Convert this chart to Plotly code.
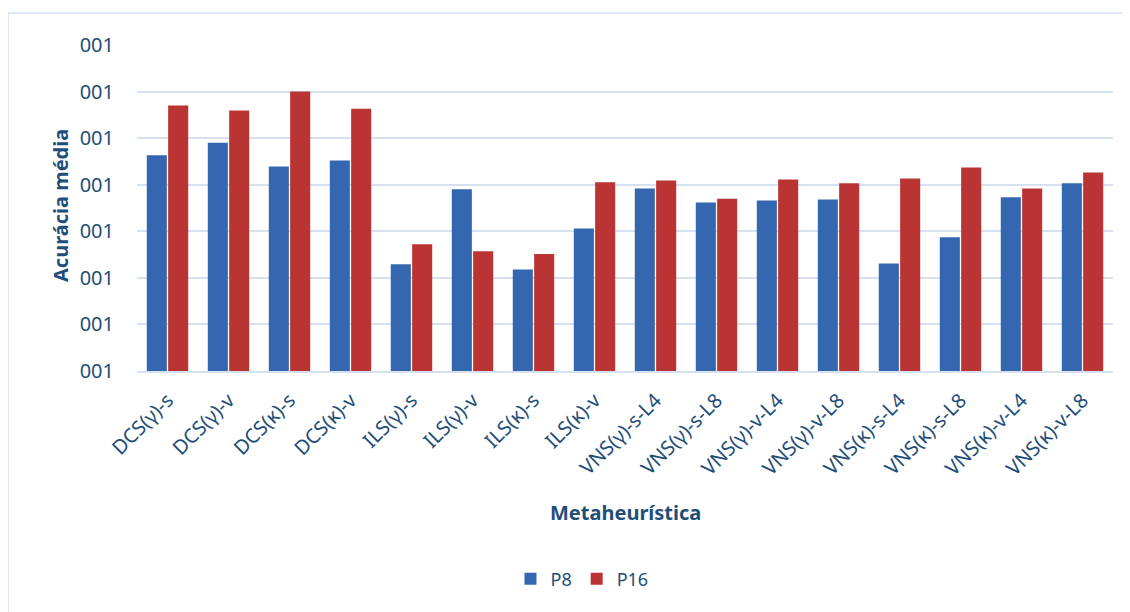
import plotly.graph_objects as go

categories = ["DCS(γ)-s", "DCS(γ)-v", "DCS(κ)-s", "DCS(κ)-v", "ILS(γ)-s", "ILS(γ)-v",
              "ILS(κ)-s", "ILS(κ)-v", "VNS(γ)-s-L4", "VNS(γ)-s-L8", "VNS(γ)-v-L4",
              "VNS(γ)-v-L8", "VNS(κ)-s-L4", "VNS(κ)-s-L8", "VNS(κ)-v-L4", "VNS(κ)-v-L8"]
p8 = [4.63, 4.90, 4.39, 4.52, 2.29, 3.90, 2.18, 3.06, 3.92, 3.62, 3.66, 3.68, 2.31, 2.87, 3.73, 4.03]
p16 = [5.70, 5.59, 6.00, 5.63, 2.72, 2.57, 2.51, 4.05, 4.09, 3.70, 4.11, 4.03, 4.13, 4.37, 3.92, 4.26]
tick_vals = [0, 1, 2, 3, 4, 5, 6, 7]
tick_text = ["001"] * 8

W, H = 1130, 612
OFF = 8  # page body margin
L, R, T, B = 137 - OFF, 17 + OFF, 44 - OFF, 612 - (371 - OFF)
txt = "#1F4E79"
font = "Noto Sans"

fig = go.Figure()
fig.add_bar(name="P8", x=categories, y=p8, marker=dict(color="#3567B0", line=dict(width=0)))
fig.add_bar(name="P16", x=categories, y=p16, marker=dict(color="#BA3434", line=dict(width=0)))

pw = W - L - R
ph = H - T - B
def px(x):
    return (x - OFF - L) / pw
def py(y):
    return (H - B - (y - OFF)) / ph

fig.update_layout(
    width=W, height=H,
    margin=dict(l=L, r=R, t=T, b=B, autoexpand=False),
    paper_bgcolor="white", plot_bgcolor="white",
    barmode="group", bargap=0.3, bargroupgap=0.06,
    font=dict(family=font, color=txt, size=14),
    showlegend=True,
    legend=dict(orientation="h", x=px(582), xanchor="center", y=py(579), yanchor="middle",
                font=dict(size=18, color=txt), itemwidth=30, tracegroupgap=0),
    xaxis=dict(tickangle=-45, tickfont=dict(size=20, color=txt), showgrid=False,
               showline=True, linecolor="#D6E1F0", linewidth=1.5, automargin=False,
               ticklabelstandoff=8),
    yaxis=dict(range=[0, 7.02], tickvals=tick_vals, ticktext=tick_text, showgrid=True,
               gridcolor="#D6E1F0", gridwidth=1.5, zeroline=False, ticks="", ticklabelstandoff=22,
               tickfont=dict(size=20, color=txt), automargin=False),
    annotations=[
        dict(text="<b>Metaheurística</b>", xref="paper", yref="paper", x=px(625), y=py(512),
             xanchor="center", yanchor="middle", showarrow=False, font=dict(size=20, color=txt)),
        dict(text="<b>Acurácia média</b>", xref="paper", yref="paper", x=px(60), y=py(206),
             xanchor="center", yanchor="middle", showarrow=False, textangle=-90,
             font=dict(size=20, color=txt)),
    ],
    shapes=[dict(type="rect", xref="paper", yref="paper", x0=px(8), x1=px(1128), y0=py(640), y1=py(13),
                 line=dict(color="#D6E1F0", width=1.5), fillcolor="rgba(0,0,0,0)", layer="below")],
)
fig.write_html("out.html")
